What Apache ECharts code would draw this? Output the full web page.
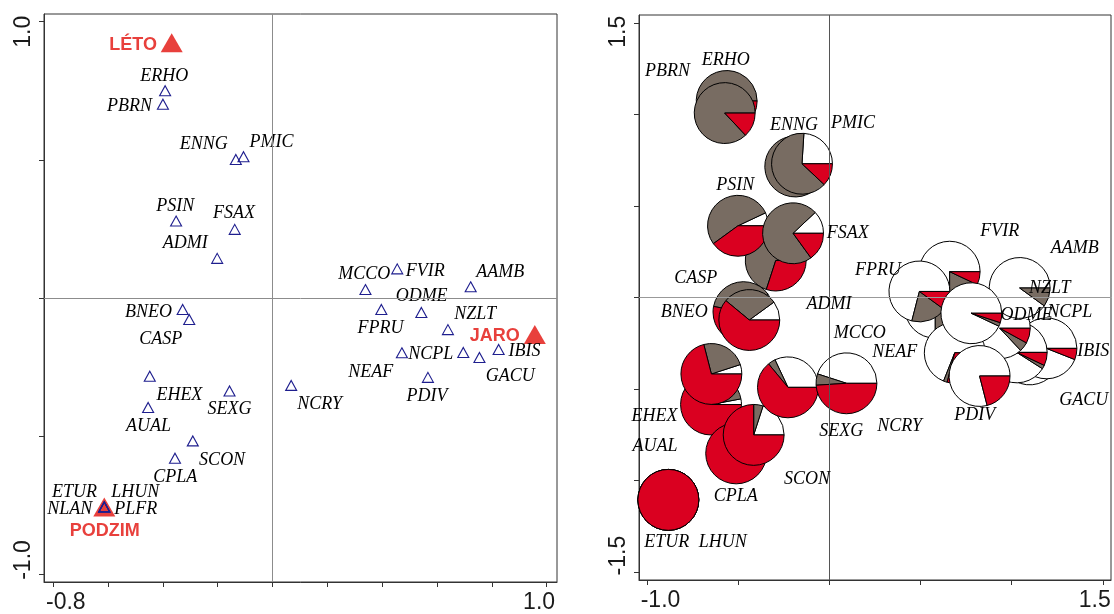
<!DOCTYPE html>
<html><head><meta charset="utf-8">
<script src="https://cdn.jsdelivr.net/npm/echarts@6/dist/echarts.min.js"></script>
<style>html,body{margin:0;padding:0;background:#fff}#c{width:1114px;height:614px}</style>
</head><body><div id="c"></div><script>
// ---------- data ----------
const speciesNames = ['ERHO','PBRN','ENNG','PMIC','ADMI','PSIN','FSAX','BNEO','CASP','AUAL','EHEX','CPLA','SCON','SEXG','NCRY','ETUR','LHUN','NLAN','PLFR','FPRU','FVIR','MCCO','GACU','IBIS','NCPL','NZLT','AAMB','NEAF','ODME','PDIV'];
// left panel: species scores (triangles)
const leftX = [-0.392,-0.400,-0.134,-0.106,-0.202,-0.352,-0.138,-0.328,-0.304,-0.454,-0.448,-0.356,-0.291,-0.157,0.068,-0.614,-0.614,-0.614,-0.614,0.397,0.455,0.339,0.755,0.825,0.696,0.640,0.723,0.472,0.543,0.567];
const leftY = [0.750,0.701,0.501,0.511,0.143,0.278,0.248,-0.042,-0.078,-0.397,-0.284,-0.581,-0.518,-0.337,-0.317,-0.757,-0.757,-0.757,-0.757,-0.042,0.105,0.030,-0.216,-0.187,-0.198,-0.115,0.040,-0.199,-0.053,-0.288];
// left panel: label anchor positions (data units)
const leftLabelX = [-0.395,-0.522,-0.251,-0.004,-0.319,-0.355,-0.141,-0.453,-0.408,-0.453,-0.340,-0.355,-0.184,-0.157,0.172,-0.723,-0.501,-0.740,-0.499,0.394,0.557,0.335,0.867,0.919,0.577,0.739,0.831,0.358,0.544,0.564];
const leftLabelY = [0.803,0.695,0.557,0.565,0.199,0.333,0.306,-0.053,-0.151,-0.465,-0.353,-0.649,-0.588,-0.403,-0.385,-0.703,-0.703,-0.767,-0.767,-0.111,0.098,0.086,-0.284,-0.193,-0.205,-0.059,0.093,-0.268,0.004,-0.356];
// season centroids (left panel)
const centroidNames = ['LÉTO','JARO','PODZIM'];
const centroidX = [-0.368,0.957,-0.614];
const centroidY = [0.924,-0.133,-0.757];
const centroidLabelX = [-0.509,0.811,-0.612];
const centroidLabelY = [0.916,-0.138,-0.844];
// right panel: pie positions
const rightX = [-0.563,-0.574,-0.187,-0.150,-0.294,-0.501,-0.199,-0.471,-0.439,-0.649,-0.647,-0.511,-0.415,-0.227,0.094,-0.883,-0.883,-0.883,-0.883,0.581,0.660,0.494,1.099,1.191,1.028,0.935,1.044,0.688,0.779,0.824];
const rightY = [1.075,1.009,0.717,0.732,0.203,0.393,0.352,-0.079,-0.122,-0.584,-0.417,-0.851,-0.750,-0.490,-0.468,-1.105,-1.105,-1.105,-1.105,-0.055,0.142,0.034,-0.310,-0.277,-0.299,-0.167,0.053,-0.301,-0.085,-0.428];
const rightLabelX = [-0.568,-0.888,-0.194,0.130,-0.002,-0.516,0.101,-0.796,-0.733,-0.956,-0.959,-0.513,-0.122,0.066,0.386,-0.892,-0.584,-1.207,-1.198,0.267,0.935,0.167,1.396,1.447,1.319,1.209,1.346,0.359,1.081,0.798];
const rightLabelY = [1.299,1.235,0.944,0.953,-0.034,0.616,0.352,-0.078,0.106,-0.814,-0.650,-1.084,-0.992,-0.732,-0.701,-1.339,-1.339,-1.105,-0.887,0.151,0.361,-0.195,-0.559,-0.291,-0.077,0.051,0.270,-0.299,-0.095,-0.641];
// pie shares (%) per season
const pctJaro   = [0,0,20,24,2,7,12,10,10,3,5,0,20,32,45,0,0,0,0,75,75,71,92,94,91,87,90,69,93,79];
const pctLeto   = [93,87,68,64,68,53,73,37,29,9,24,0,5,4,6,0,0,0,0,15,18,19,2,0,2,5,10,2,2,0];
const pctPodzim = [7,13,12,12,30,40,15,53,61,88,71,100,75,64,49,100,100,100,100,10,7,10,6,6,7,8,0,29,5,21];
// axis ticks / labels
const leftXTicks = [-0.8,-0.6,-0.4,-0.2,0,0.2,0.4,0.6,0.8,1.0];
const leftXLabels = [-0.8,1.0];
const leftYTicks = [-1.0,-0.5,0,0.5,1.0];
const leftYLabels = [-1.0,1.0];
const rightXTicks = [-1.0,-0.5,0,0.5,1.0,1.5];
const rightXLabels = [-1.0,1.5];
const rightYTicks = [-1.5,-1.0,-0.5,0,0.5,1.0,1.5];
const rightYLabels = [-1.5,1.5];

// ---------- styles ----------
const PIE_R = 0.167;
const PIE_COLORS = ['#ffffff','#786c62','#da0020'];
const AX = '#333';
const tickFont = {fontFamily:'Liberation Sans', fontSize:23, color:'#1a1a1a'};
const spFont = {fontFamily:'Liberation Serif', fontStyle:'italic', fontSize:18, color:'#000'};

function richPad(pads){
  const r = {};
  pads.forEach((p,i)=>{ r['p'+i] = Object.assign({padding:p}, tickFont); });
  return r;
}
function fmt(vals){
  return function(v, i){
    let k = vals.findIndex(x => Math.abs(x - v) < 1e-9);
    if (k < 0) k = i;
    return '{p'+k+'|'+vals[k].toFixed(1)+'}';
  };
}

function renderPie(params, api){
  const c = api.coord([api.value(0), api.value(1)]);
  const r = api.size([PIE_R, 0])[0];
  const vals = [api.value(2), api.value(3), api.value(4)];
  const total = vals[0]+vals[1]+vals[2];
  const children = [];
  let acc = 0;
  for (let k=0;k<3;k++){
    const v = vals[k];
    if (!(v > 0)) continue;
    const a1 = acc/total*2*Math.PI, a2 = (acc+v)/total*2*Math.PI;
    acc += v;
    if (v >= total){
      children.push({type:'circle', shape:{cx:c[0],cy:c[1],r:r}, style:{fill:PIE_COLORS[k], stroke:'#000', lineWidth:1}});
    } else {
      children.push({type:'sector', shape:{cx:c[0],cy:c[1],r0:0,r:r,startAngle:-a2,endAngle:-a1,clockwise:true}, style:{fill:PIE_COLORS[k], stroke:'#000', lineWidth:1}});
    }
  }
  return {type:'group', children};
}

function labelSeries(xi, xs, ys, names, font, z){
  return {
    type:'scatter', xAxisIndex:xi, yAxisIndex:xi, z:z, silent:true,
    symbol:'circle', symbolSize:1, itemStyle:{color:'rgba(0,0,0,0)', opacity:1},
    data: names.map((n,i)=>({value:[xs[i], ys[i]], name:n})),
    label:Object.assign({show:true, position:'inside', align:'center', verticalAlign:'middle', opacity:1, textBorderWidth:0, formatter:p=>p.name}, font),
    labelLayout:{hideOverlap:false}
  };
}

function zeroLines(xi, vColor, hColor){
  return {
    type:'scatter', xAxisIndex:xi, yAxisIndex:xi, z:1, silent:true, data:[],
    markLine:{silent:true, symbol:['none','none'], animation:false, label:{show:false},
      data:[{xAxis:0, lineStyle:{color:vColor, width:1, type:'solid'}},
            {yAxis:0, lineStyle:{color:hColor, width:1, type:'solid'}}]}
  };
}

const chart = echarts.init(document.getElementById('c'), null, {renderer:'canvas'});
chart.setOption({
  animation:false,
  backgroundColor:'#fff',
  grid:[
    {left:44, top:14, width:513, height:568, show:true, borderColor:AX, borderWidth:1, backgroundColor:'rgba(0,0,0,0)'},
    {left:639, top:15, width:472, height:565, show:true, borderColor:AX, borderWidth:1, backgroundColor:'rgba(0,0,0,0)'}
  ],
  xAxis:[
    {type:'value', gridIndex:0, min:-0.834, max:1.038, splitLine:{show:false},
     axisLine:{show:true, onZero:false, lineStyle:{color:AX}},
     axisTick:{show:true, inside:false, length:5, customValues:leftXTicks, lineStyle:{color:AX}},
     axisLabel:{show:true, margin:9, customValues:leftXLabels, formatter:fmt(leftXLabels), rich:richPad([[0,0,0,25],[0,15,0,0]])}},
    {type:'value', gridIndex:1, min:-1.044, max:1.545, splitLine:{show:false},
     axisLine:{show:true, onZero:false, lineStyle:{color:AX}},
     axisTick:{show:true, inside:false, length:5, customValues:rightXTicks, lineStyle:{color:AX}},
     axisLabel:{show:true, margin:9, customValues:rightXLabels, formatter:fmt(rightXLabels), rich:richPad([[0,0,0,27],[0,16,0,0]])}}
  ],
  yAxis:[
    {type:'value', gridIndex:0, min:-1.029, max:1.028, splitLine:{show:false},
     axisLine:{show:true, onZero:false, lineStyle:{color:AX}},
     axisTick:{show:true, inside:false, length:5, customValues:leftYTicks, lineStyle:{color:AX}},
     axisLabel:{show:true, margin:9, rotate:90, customValues:leftYLabels, formatter:fmt(leftYLabels), rich:richPad([[0,0,0,28],[0,20,0,0]])}},
    {type:'value', gridIndex:1, min:-1.543, max:1.545, splitLine:{show:false},
     axisLine:{show:true, onZero:false, lineStyle:{color:AX}},
     axisTick:{show:true, inside:false, length:5, customValues:rightYTicks, lineStyle:{color:AX}},
     axisLabel:{show:true, margin:9, rotate:90, customValues:rightYLabels, formatter:fmt(rightYLabels), rich:richPad([[0,0,0,33],[0,17,0,0]])}}
  ],
  series:[
    zeroLines(0, '#8c8c8c', '#8c8c8c'),
    zeroLines(1, '#555', '#999'),
    {type:'scatter', xAxisIndex:0, yAxisIndex:0, z:2, silent:true,
     symbol:'triangle', symbolSize:[22,19], itemStyle:{color:'#e8403c', opacity:1},
     data: centroidNames.map((n,i)=>({value:[centroidX[i], centroidY[i]], name:n}))},
    {type:'scatter', xAxisIndex:0, yAxisIndex:0, z:3, silent:true,
     symbol:'triangle', symbolSize:[11,10],
     itemStyle:{color:'rgba(0,0,0,0)', borderColor:'#1e1e8e', borderWidth:1.1, opacity:1},
     data: speciesNames.map((n,i)=>({value:[leftX[i], leftY[i]], name:n}))},
    labelSeries(0, leftLabelX, leftLabelY, speciesNames, spFont, 4),
    labelSeries(0, centroidLabelX, centroidLabelY, centroidNames, {fontFamily:'Liberation Sans', fontWeight:'bold', fontSize:18, color:'#e8403c'}, 4),
    {type:'custom', xAxisIndex:1, yAxisIndex:1, z:2, silent:true, clip:false,
     renderItem:renderPie, encode:{x:0, y:1},
     data: speciesNames.map((n,i)=>[rightX[i], rightY[i], pctJaro[i], pctLeto[i], pctPodzim[i]])},
    labelSeries(1, rightLabelX, rightLabelY, speciesNames, spFont, 5)
  ]
});
</script></body></html>
